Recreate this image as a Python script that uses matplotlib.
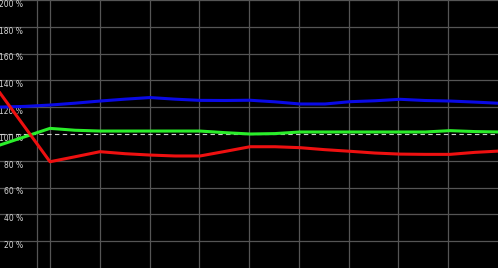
import matplotlib.pyplot as plt

# sample positions (pixels along the time axis) and percent values
xs = [0, 25, 50, 75, 100, 125, 150, 175, 200, 225, 250,
      275, 300, 325, 350, 375, 400, 425, 450, 475, 500]
red = [130.6, 105.0, 79.3, 83.0, 86.8, 85.3, 84.3, 83.6, 83.6, 87.0, 90.5,
       90.5, 89.8, 88.3, 87.1, 85.8, 85.0, 84.8, 84.8, 86.3, 87.3]
blue = [120.1, 120.6, 121.6, 123.0, 124.6, 126.0, 127.2, 126.0, 125.1, 125.0, 125.2,
        124.0, 122.4, 122.4, 124.1, 124.8, 125.9, 125.0, 124.6, 123.8, 122.9]
green = [91.8, 98.0, 104.2, 102.8, 102.2, 102.2, 102.2, 102.2, 102.2, 101.0, 100.0,
         100.3, 101.5, 101.5, 101.5, 101.5, 101.5, 101.5, 102.5, 101.8, 101.5]
y_ticks = [20, 40, 60, 80, 100, 120, 140, 160, 180, 200]
x_grid = [37, 50, 100, 150, 199, 249, 299, 349, 398, 448]

fig = plt.figure(figsize=(4.98, 2.68), dpi=100)
fig.patch.set_facecolor('black')
ax = fig.add_axes([0, 0, 1, 1])
ax.set_facecolor('black')
ax.set_xlim(0, 498)
ax.set_ylim(0, 200)
ax.axis('off')

# grid
for v in y_ticks:
    if v == 100:
        continue
    ax.axhline(v, color='#555555', lw=0.9, zorder=1)
for gx in x_grid:
    ax.axvline(gx, color='#555555', lw=0.9, zorder=1)
ax.axhline(100, color='#d0d0d0', lw=0.8, ls=(0, (4, 3)), zorder=2)

# labels
for v in y_ticks:
    ax.text(23, v - 3.2, '%d %%' % v, color='#d8d8d8', fontsize=5.5,
            ha='right', va='center', zorder=3)

ax.plot(xs, blue, color='#0a0ae6', lw=2.2, zorder=4)
ax.plot(xs, green, color='#2aee2a', lw=2.2, zorder=4)
ax.plot(xs, red, color='#ee1010', lw=2.2, zorder=5)

fig.savefig('out.png', dpi=100, facecolor='black')
